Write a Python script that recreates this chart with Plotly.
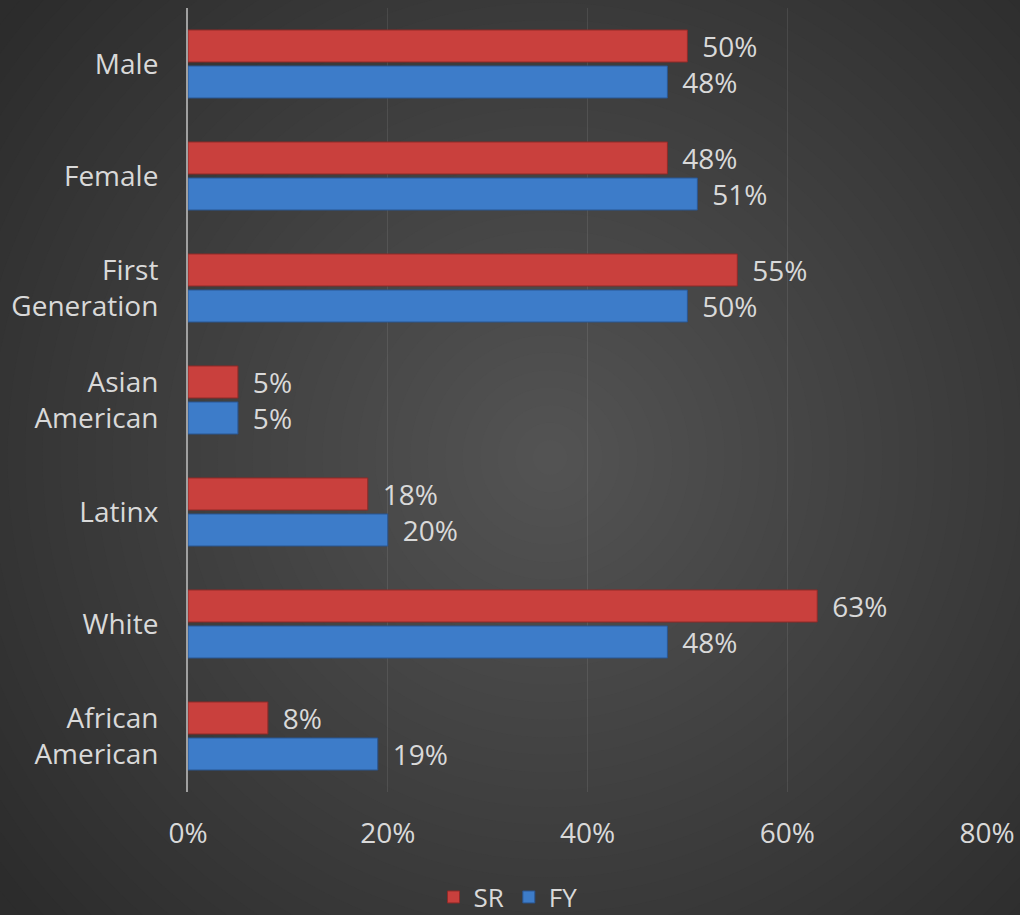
import plotly.graph_objects as go

categories = ["Male", "Female", "First<br>Generation", "Asian<br>American", "Latinx", "White", "African<br>American"]
sr_values = [50, 48, 55, 5, 18, 63, 8]
fy_values = [48, 51, 50, 5, 20, 48, 19]
x_ticks = [0, 20, 40, 60, 80]
x_tick_labels = ["0%", "20%", "40%", "60%", "80%"]

FONT = "Open Sans"
TXT = "#d9d9d9"
W, H = 1020, 915
ML, MR, MT, MB = 188, 33, 8, 123
PW, PH = W - ML - MR, H - MT - MB

fig = go.Figure()
fig.add_trace(go.Bar(
    name="SR", y=categories, x=sr_values, orientation="h",
    marker=dict(color="#c9403d", line=dict(color="#8e2a28", width=1)),
    text=[f"\u00a0\u2009{v}%" for v in sr_values], textposition="outside",
    textfont=dict(color=TXT, size=28, family=FONT), cliponaxis=False,
))
fig.add_trace(go.Bar(
    name="FY", y=categories, x=fy_values, orientation="h",
    marker=dict(color="#3d7cc9", line=dict(color="#2a5590", width=1)),
    text=[f"\u00a0\u2009{v}%" for v in fy_values], textposition="outside",
    textfont=dict(color=TXT, size=28, family=FONT), cliponaxis=False,
))

# radial background gradient (dark corners, lighter centre)
shapes = []
cx, cy = W / 2 + 40, H / 2
rmax = 700
steps = 40
for i in range(steps):
    r = rmax * (1 - i / steps)
    c = int(round(84 - 40 * (r / rmax)))
    col = f"rgb({c},{c},{c})"
    shapes.append(dict(
        type="circle", xref="paper", yref="paper", layer="below",
        x0=(cx - r - ML) / PW, x1=(cx + r - ML) / PW,
        y0=(H - MB - (cy + r)) / PH, y1=(H - MB - (cy - r)) / PH,
        fillcolor=col, line=dict(width=0),
    ))

fig.update_layout(
    width=W, height=H, autosize=False,
    margin=dict(l=ML, r=MR, t=MT, b=MB, autoexpand=False),
    paper_bgcolor="#2c2c2c", plot_bgcolor="rgba(0,0,0,0)",
    barmode="group", bargap=0.357, bargroupgap=0.11,
    font=dict(family=FONT, color=TXT, size=28),
    shapes=shapes,
    uniformtext=dict(minsize=28, mode="show"),
    legend=dict(orientation="h", x=(W / 2 - 2 - ML) / PW, xanchor="center",
                y=-0.134, yanchor="middle", bgcolor="rgba(0,0,0,0)",
                font=dict(size=26, color=TXT, family=FONT), traceorder="normal"),
)
fig.update_xaxes(range=[0, 80], tickvals=x_ticks, ticktext=x_tick_labels,
                 showgrid=True, gridcolor="rgba(255,255,255,0.09)", gridwidth=1,
                 zeroline=False, showline=False, ticks="", ticklabelstandoff=22,
                 tickangle=0, automargin=False,
                 tickfont=dict(size=28, color=TXT, family=FONT))
fig.update_yaxes(autorange="reversed", showline=True, linecolor="#a0a0a0", linewidth=2,
                 ticks="", ticklabelstandoff=22, showgrid=False, automargin=False,
                 tickfont=dict(size=28, color=TXT, family=FONT))

fig.write_html("out.html", config={"displayModeBar": False},
               post_script="document.body.style.margin='0';")
